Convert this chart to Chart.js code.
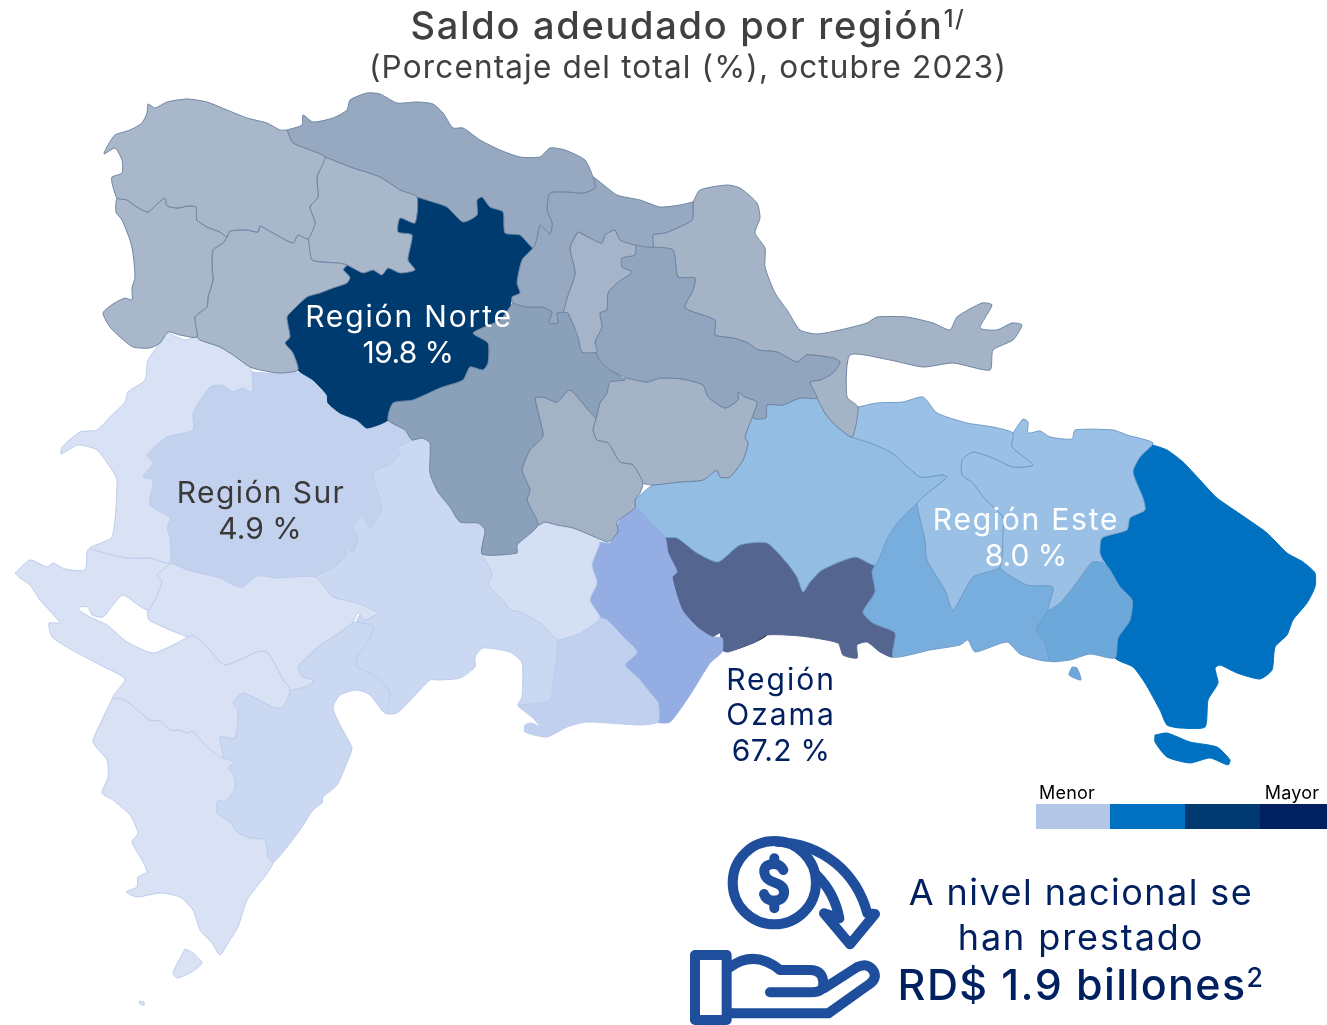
<!DOCTYPE html>
<html>
<head>
<meta charset="utf-8">
<title>Saldo adeudado por región</title>
<script src="https://cdn.jsdelivr.net/npm/chart.js"></script>
<style>
  html, body { margin: 0; padding: 0; background: #fff; }
  #wrap { position: relative; width: 1327px; height: 1025px; overflow: hidden; font-family: Inter, "Open Sans", sans-serif; }
  canvas { position: absolute; left: 0; top: 0; }
  .t { position: absolute; transform: translate(-50%, -50%); white-space: nowrap; line-height: 1; }
  sup { font-size: 62%; line-height: 0; vertical-align: baseline; position: relative; top: -0.5em; }
  #icon { position: absolute; left: 680px; top: 830px; }
</style>
</head>
<body>
<div id="wrap">
  <canvas id="map" width="1327" height="1025"></canvas>
  <div class="t" id="title" style="left:688px;top:25px;font-size:38px;color:#404040;letter-spacing:1.7px;font-weight:500"></div>
  <div class="t" id="sub" style="left:688px;top:67px;font-size:31.5px;color:#404040;letter-spacing:1.15px"></div>
  <div class="t" id="r0a" style="left:409px;top:316px;font-size:30px;color:#fff;letter-spacing:1.85px"></div>
  <div class="t" id="r0b" style="left:408px;top:352px;font-size:30px;color:#fff;letter-spacing:-.6px"></div>
  <div class="t" id="r1a" style="left:261px;top:492px;font-size:30px;color:#3b3838;letter-spacing:1.4px"></div>
  <div class="t" id="r1b" style="left:260px;top:528px;font-size:30px;color:#3b3838"></div>
  <div class="t" id="r2a" style="left:1026px;top:519px;font-size:30px;color:#fff;letter-spacing:1.75px"></div>
  <div class="t" id="r2b" style="left:1026px;top:555px;font-size:30px;color:#fff"></div>
  <div class="t" id="r3a" style="left:781px;top:679px;font-size:30px;color:#002060;letter-spacing:2px"></div>
  <div class="t" id="r3c" style="left:781px;top:714px;font-size:30px;color:#002060;letter-spacing:2px"></div>
  <div class="t" id="r3b" style="left:781px;top:750px;font-size:30px;color:#002060;letter-spacing:.3px"></div>
  <div class="t" id="lo" style="left:1067px;top:793px;font-size:18px;color:#000;letter-spacing:.2px"></div>
  <div class="t" id="hi" style="left:1292px;top:793px;font-size:18px;color:#000;letter-spacing:.2px"></div>
  <div class="t" id="c1" style="left:1081px;top:892px;font-size:36px;color:#002060;letter-spacing:1.45px"></div>
  <div class="t" id="c2" style="left:1081px;top:937px;font-size:36px;color:#002060;letter-spacing:1.9px"></div>
  <div class="t" id="c3" style="left:1081px;top:984px;font-size:43px;color:#002060;font-weight:500;letter-spacing:1.4px"></div>
  <svg id="icon" width="300" height="195" viewBox="0 0 900 585" fill="none" stroke="#1f4e9c" stroke-width="30" stroke-linecap="round" stroke-linejoin="round">
    <circle cx="283" cy="158" r="125"/>
    <path d="M310 120 Q300 100 278 102 Q250 105 253 128 Q256 150 285 158 Q315 168 312 190 Q308 212 282 212 Q258 212 252 192"/>
    <path d="M283 85 V102 M283 212 V235"/>
    <path d="M290 35 C430 40 530 130 562 250 L585 252 L510 343 L432 250 L478 265 C468 210 445 170 410 135"/>
    <rect x="45" y="375" width="95" height="195"/>
    <path d="M150 412 C200 375 250 380 300 420 H390 Q430 420 430 462 Q430 487 395 487 H270"/>
    <path d="M432 475 L530 412 Q565 395 582 425 Q592 450 560 468 L445 550 H150"/>
  </svg>
</div>
<script>
// region labels and values
const regionNames = ['Región Norte', 'Región Sur', 'Región Este', 'Región Ozama'];
const regionShares = ['19.8 %', '4.9 %', '8.0 %', '67.2 %'];
const legendLabels = ['Menor', 'Mayor'];

// province outlines, x,y pairs
const montecristi = [287,130,280,130,267,123,247,118,227,110,207,102,187,99,167,102,155,108,148,104,147,113,142,123,130,130,115,135,108,145,104,154,115,148,122,160,122,173,112,177,112,183,117,198,127,200,137,207,148,212,158,203,165,198,167,206,178,208,187,206,196,207,197,220,207,227,220,232,227,237,230,231,247,230,258,232,260,226,273,233,293,243,298,235,308,239,315,223,310,207,318,197,317,177,325,157,310,150,293,143];
const dajabon = [227,237,223,243,213,250,212,267,213,280,208,297,207,307,195,317,197,337,180,335,168,332,160,343,150,348,133,347,120,337,110,327,103,313,113,304,125,298,132,300,132,288,135,277,133,253,130,240,122,220,116,212,117,198,127,200,137,207,148,212,158,203,165,198,167,206,178,208,187,206,196,207,197,220,207,227,220,232];
const santiagoRodriguez = [227,237,230,231,247,230,258,232,260,226,273,233,293,243,298,235,308,239,312,260,337,263,347,265,343,270,350,277,347,283,333,288,320,293,307,297,293,310,287,317,290,337,285,343,293,353,298,370,280,373,260,370,250,367,233,355,220,347,200,340,197,337,195,317,207,307,208,297,213,280,212,267,213,250,223,243];
const valverde = [325,157,353,168,380,177,400,190,417,197,415,223,400,218,398,232,412,235,408,260,415,270,400,273,388,268,382,275,373,270,363,273,347,265,337,263,312,260,308,239,315,223,310,207,318,197,317,177];
const santiago = [417,197,433,202,447,207,463,222,477,215,477,200,482,197,490,207,503,212,505,233,520,235,533,248,522,260,517,283,520,293,512,297,510,307,500,320,473,333,488,343,488,363,483,370,470,367,463,380,440,388,413,400,393,403,388,420,367,428,357,420,340,413,328,403,327,395,313,380,298,370,293,353,285,343,290,337,287,317,293,310,307,297,320,293,333,288,347,283,350,277,343,268,350,265,363,272,373,270,382,275,388,268,400,273,415,270,408,260,412,235,398,232,400,218,415,223];
const puertoPlata = [287,130,302,125,303,115,313,122,333,118,347,110,350,100,367,93,380,94,397,103,417,102,433,104,443,113,453,128,463,128,480,140,500,150,520,157,540,157,550,148,565,150,585,160,593,177,595,188,583,193,568,192,550,193,547,210,552,223,550,234,540,225,537,238,533,248,520,235,505,233,503,212,490,207,482,197,477,200,477,215,463,222,447,207,433,202,417,197,400,190,380,177,353,168,325,157,310,150,293,143];
const espaillat = [693,202,692,220,677,228,665,233,653,235,653,247,635,245,620,240,615,230,605,235,602,243,590,238,578,232,570,248,575,273,567,298,563,312,557,313,558,323,549,323,552,312,542,307,527,307,513,303,512,297,520,293,517,283,522,260,533,248,537,238,540,225,550,234,552,223,547,210,550,193,568,192,583,193,595,188,593,177,617,195,640,200,660,207,680,205];
const hermanasMirabal = [578,232,590,238,602,243,605,235,615,230,620,240,635,245,635,255,622,258,622,267,632,272,617,283,608,293,607,310,600,313,602,327,595,342,597,352,582,352,578,337,568,313,563,312,567,298,575,273,570,248];
const duarte = [635,245,653,247,673,250,678,277,695,278,693,290,685,308,715,320,715,335,733,338,748,343,758,350,777,352,797,362,807,355,833,358,840,362,833,373,820,380,810,382,817,398,800,398,783,405,767,405,766,418,753,418,757,402,745,397,738,392,738,400,725,408,708,397,703,385,682,379,660,378,647,382,627,378,610,370,598,358,595,342,602,327,600,313,607,310,608,293,617,283,632,272,622,267,622,258,635,255];
const samana = [693,202,700,190,727,185,740,188,757,203,760,218,755,233,765,248,765,267,775,293,787,310,800,330,817,334,840,330,867,323,877,317,907,317,933,323,950,330,957,317,982,303,992,305,980,328,997,330,1012,323,1022,325,1013,340,993,350,990,370,953,363,923,367,890,360,850,355,847,397,858,407,852,437,833,423,825,413,817,398,810,382,820,380,833,373,840,362,833,358,807,355,797,362,777,352,758,350,748,343,733,338,715,335,715,320,685,308,693,290,695,278,678,277,673,250,653,247,653,235,665,233,677,228,692,220];
const laVega = [513,303,527,307,542,307,552,312,549,323,558,323,557,313,563,312,568,313,578,337,582,352,597,352,598,358,610,370,625,380,610,382,607,393,600,403,596,418,590,412,570,390,557,402,543,397,535,398,543,433,542,438,530,450,522,470,530,490,527,500,538,525,517,545,517,553,482,554,485,530,478,523,460,522,450,507,438,492,430,473,430,443,422,438,412,440,405,430,388,420,393,403,413,400,440,388,463,380,470,367,483,370,488,363,488,343,473,333,500,320,510,307];
const monsenorNouel = [535,398,543,397,557,402,570,390,590,412,596,418,593,430,597,440,608,443,620,462,633,465,643,483,640,493,635,500,635,508,617,522,618,532,608,542,595,537,573,528,557,525,545,522,538,525,527,500,530,490,522,470,530,450,542,438,543,433];
const sanchezRamirez = [608,382,627,378,647,382,660,378,682,379,703,385,708,397,725,408,738,400,738,392,745,397,757,402,752,418,745,437,748,443,743,460,730,477,720,477,717,470,703,480,680,482,653,485,643,483,633,465,620,462,608,443,597,440,593,430,596,418,600,403,607,393];
const montePlata = [635,500,653,485,680,482,703,480,717,470,720,477,730,477,743,460,748,443,745,437,752,418,766,418,767,405,783,405,800,398,817,398,825,413,833,423,852,437,870,443,892,453,920,477,942,475,947,477,923,497,917,503,900,520,888,537,875,565,855,557,822,570,810,582,803,592,797,577,787,563,767,543,740,545,718,562,697,553,677,538,663,537,648,520,636,508];
const hatoMayor = [858,407,877,403,903,402,923,397,937,413,967,423,993,427,1013,433,1012,447,1033,465,1013,467,993,458,973,452,962,460,962,475,973,483,983,497,1003,517,1003,530,1000,567,973,577,953,610,945,590,927,560,925,540,917,503,923,497,947,477,942,475,920,477,892,453,870,443,852,437];
const elSeibo = [1013,433,1023,419,1028,422,1028,433,1040,431,1050,437,1072,439,1075,430,1113,430,1127,435,1153,443,1140,457,1133,472,1143,498,1145,510,1130,518,1127,530,1102,538,1100,553,1103,562,1092,562,1077,582,1060,603,1048,610,1053,587,1027,585,1000,567,1003,530,1003,517,983,497,973,483,962,475,962,460,973,452,993,458,1013,467,1033,465,1012,447];
const altagracia = [1153,445,1167,450,1183,462,1200,480,1217,498,1243,516,1267,533,1287,553,1303,562,1315,573,1315,587,1307,603,1293,620,1287,635,1275,647,1272,670,1260,679,1237,673,1220,665,1215,668,1218,683,1208,700,1205,727,1180,728,1167,725,1160,710,1145,683,1133,667,1115,658,1118,638,1130,620,1132,600,1120,587,1110,570,1100,553,1102,538,1127,530,1130,518,1145,510,1143,498,1133,472,1140,457];
const saona = [1155,735,1167,733,1190,742,1217,747,1230,760,1228,765,1210,758,1190,763,1167,757,1155,742];
const laRomana = [1092,562,1103,562,1110,570,1120,587,1132,600,1130,620,1118,638,1115,658,1090,654,1070,660,1048,661,1045,643,1036,630,1048,610,1060,603,1077,582];
const catalina = [1072,667,1077,668,1081,680,1069,675];
const sanPedro = [917,503,925,540,927,560,945,590,953,610,973,577,1000,567,1027,585,1053,587,1048,610,1036,630,1045,643,1048,661,1020,654,1007,642,975,652,968,640,960,645,930,650,893,657,895,633,873,623,863,612,875,592,872,572,875,565,888,537,900,520];
const santoDomingo = [663,537,677,538,697,553,718,562,740,545,767,543,787,563,797,577,803,592,810,582,822,570,855,557,875,565,872,572,875,592,863,612,873,623,895,633,893,657,880,652,867,642,857,645,857,658,843,655,838,643,800,636,767,635,753,643,728,652,722,650,720,633,712,637,698,628,682,610,672,577,677,572,668,553];
const distritoNacional = [728,607,737,605,740,612,747,617,763,617,769,623,767,635,753,643,730,650,737,632,725,622,728,615];
const sanCristobal = [600,542,610,543,620,520,637,508,648,520,665,537,668,553,677,572,672,577,682,610,698,628,712,637,722,638,722,652,710,663,690,695,670,722,658,722,658,703,650,693,638,678,625,665,637,652,623,637,607,620,600,618,590,600,597,583,592,565];
const peravia = [600,618,607,620,623,637,637,652,625,665,638,678,650,693,658,703,658,722,640,725,587,722,567,727,547,737,525,732,525,725,532,723,540,727,533,718,518,705,550,700,553,683,557,652,557,640,580,633];
const ocoa = [535,513,545,522,557,525,573,528,595,537,600,542,592,565,597,583,590,600,600,618,580,633,557,640,547,630,543,625,520,612,510,610,503,600,488,585,492,573,482,554,517,553,517,545,538,525];
const azua = [412,440,422,438,430,443,430,473,438,492,450,507,460,522,478,523,485,530,482,554,492,573,488,585,503,600,510,610,520,612,543,625,547,630,557,640,557,652,553,683,550,700,518,705,522,697,522,663,510,652,483,648,475,657,475,667,460,678,440,680,430,680,420,690,397,713,385,713,390,693,377,677,357,667,357,657,367,643,373,627,357,622,360,615,377,613,357,603,333,597,320,587,315,577,333,568,345,557,347,548,353,553,358,537,353,527,362,515,370,528,382,508,373,473,392,463,400,453,397,448];
const sanJuan = [252,372,267,373,297,372,313,380,327,395,328,403,340,413,357,420,367,428,388,420,405,430,412,440,397,448,400,453,392,463,373,473,382,508,370,528,362,515,353,527,358,537,353,553,347,548,345,557,333,568,315,577,277,578,257,576,243,587,233,585,220,578,187,570,170,563,170,537,167,528,170,518,150,505,153,480,143,477,153,463,147,455,167,437,193,430,193,413,210,387,222,385,233,392,242,388,252,392];
const eliasPina = [168,333,185,340,197,337,200,340,220,347,233,355,250,367,252,372,252,392,242,388,233,392,222,385,210,387,193,413,193,430,167,437,147,455,153,463,143,477,153,480,150,505,170,518,167,528,170,537,170,563,150,558,127,558,90,548,112,537,117,480,112,470,97,450,78,445,61,454,62,447,80,432,97,430,110,417,125,402,128,392,145,380,148,360];
const barahona = [298,667,320,645,333,637,353,623,357,622,373,627,367,643,357,657,357,667,377,677,390,693,385,713,370,695,357,690,340,695,333,708,340,725,352,748,348,760,337,785,323,797,322,803,313,810,300,830,287,847,273,863,268,857,265,840,250,838,237,832,230,822,217,813,218,800,225,802,235,788,233,773,228,768,235,762,223,758,220,737,235,738,238,710,233,703,243,693,275,708,283,707,290,690,310,685,313,680,302,677];
const baoruco = [157,575,170,563,187,570,220,578,233,585,243,587,257,576,277,578,315,577,333,597,357,603,377,613,365,620,358,613,353,622,333,637,320,645,298,667,302,677,313,680,310,685,290,690,283,680,277,668,267,652,257,652,225,665,207,647,193,635,188,637,149,620,148,610,162,582];
const independencia = [15,573,30,560,47,567,53,563,65,569,85,570,87,552,90,548,127,558,150,558,170,563,157,575,162,582,148,610,123,595,113,605,103,617,92,615,88,607,80,607,79,610,90,617,107,625,127,642,153,653,173,645,188,637,193,635,207,647,225,665,257,652,267,652,277,668,283,680,290,690,283,707,275,708,243,693,233,703,238,710,235,738,220,737,223,758,205,745,193,731,187,733,180,730,170,730,160,721,150,720,125,700,113,697,125,679,100,665,72,650,52,637,49,623,60,623,40,600,30,585,20,578];
const pedernales = [113,697,125,700,150,720,160,721,170,730,180,730,187,733,193,731,205,745,223,758,235,762,228,768,233,773,235,788,225,802,218,800,217,813,230,822,237,832,250,838,265,840,268,857,273,863,268,872,247,900,238,927,228,943,220,955,212,943,200,930,193,910,180,897,160,893,137,897,126,892,137,887,138,877,147,872,142,860,132,842,138,833,130,815,113,800,102,793,108,777,107,760,93,742,102,720];
const beata = [185,949,193,953,202,963,190,973,177,978,173,973,178,962];
const altoVelo = [139,1001,144,1002,144,1005,140,1004];

// colour key under the map
const keyColors = ['#b3c6e7', '#0070c0', '#003a70', '#002060'];
const keyCells = [
  [1036,804,1110,804,1110,829,1036,829],
  [1110,804,1185,804,1185,829,1110,829],
  [1185,804,1260,804,1260,829,1185,829],
  [1260,804,1327,804,1327,829,1260,829]
];

const northLine = '#6d84a3', southLine = '#bccceb', eastLine = '#6f9cc8';
const shapes = [
  [montecristi, '#a9b7ca', northLine], [dajabon, '#a9b7ca', northLine], [santiagoRodriguez, '#a9b7ca', northLine],
  [valverde, '#a9b7ca', northLine], [puertoPlata, '#96a9c1', northLine], [espaillat, '#96a9c1', northLine],
  [hermanasMirabal, '#a5b4c8', northLine], [duarte, '#91a6be', northLine], [samana, '#a5b3c6', northLine],
  [laVega, '#8ba0b9', northLine], [monsenorNouel, '#a3b2c5', northLine], [sanchezRamirez, '#a5b3c6', northLine],
  [santiago, '#003b70', '#003b70'],
  [eliasPina, '#d8e2f4', southLine], [independencia, '#d8e2f4', southLine], [baoruco, '#d8e2f4', southLine],
  [pedernales, '#d8e2f4', southLine], [beata, '#d8e2f4', southLine], [altoVelo, '#d8e2f4', southLine],
  [barahona, '#cbd8f1', southLine], [azua, '#cbd8f1', southLine], [sanJuan, '#c2d2ee', southLine],
  [ocoa, '#d5dff3', southLine], [peravia, '#c0d0ee', southLine], [sanCristobal, '#94aee4', '#94aee4'],
  [montePlata, '#93bde3', eastLine], [hatoMayor, '#9bc0e5', eastLine], [elSeibo, '#9bc0e5', eastLine],
  [sanPedro, '#78aedd', eastLine], [laRomana, '#6ca8da', eastLine], [catalina, '#6ca8da', eastLine],
  [altagracia, '#0070c0', '#0070c0'], [saona, '#0070c0', '#0070c0'],
  [santoDomingo, '#54658f', '#54658f'], [distritoNacional, '#1f2a3a', '#1f2a3a']
];

function toPoints(flat) {
  const pts = [];
  for (let i = 0; i < flat.length; i += 2) pts.push({ x: flat[i], y: flat[i + 1] });
  pts.push({ x: flat[0], y: flat[1] });
  return pts;
}

const datasets = shapes.map(s => ({
  data: toPoints(s[0]),
  showLine: true,
  fill: 'shape',
  tension: 0.2,
  pointRadius: 0,
  borderWidth: 1,
  borderColor: s[2],
  backgroundColor: s[1]
}));
keyCells.forEach((c, i) => datasets.push({
  data: toPoints(c), showLine: true, fill: 'shape', pointRadius: 0, borderWidth: 0,
  borderColor: keyColors[i], backgroundColor: keyColors[i]
}));

new Chart(document.getElementById('map'), {
  type: 'scatter',
  data: { datasets },
  options: {
    responsive: false,
    animation: false,
    layout: { padding: 0 },
    plugins: { legend: { display: false }, tooltip: { enabled: false } },
    scales: {
      x: { type: 'linear', display: false, min: 0, max: 1327 },
      y: { type: 'linear', display: false, min: 0, max: 1025, reverse: true }
    }
  }
});

const setText = (id, html) => { document.getElementById(id).innerHTML = html; };
setText('title', 'Saldo adeudado por región<sup>1/</sup>');
setText('sub', '(Porcentaje del total (%), octubre 2023)');
setText('r0a', regionNames[0]); setText('r0b', regionShares[0]);
setText('r1a', regionNames[1]); setText('r1b', regionShares[1]);
setText('r2a', regionNames[2]); setText('r2b', regionShares[2]);
setText('r3a', regionNames[3].split(' ')[0]); setText('r3c', regionNames[3].split(' ')[1]); setText('r3b', regionShares[3]);
setText('lo', legendLabels[0]); setText('hi', legendLabels[1]);
setText('c1', 'A nivel nacional se');
setText('c2', 'han prestado');
setText('c3', 'RD$ 1.9 billones<sup>2</sup>');
</script>
</body>
</html>
